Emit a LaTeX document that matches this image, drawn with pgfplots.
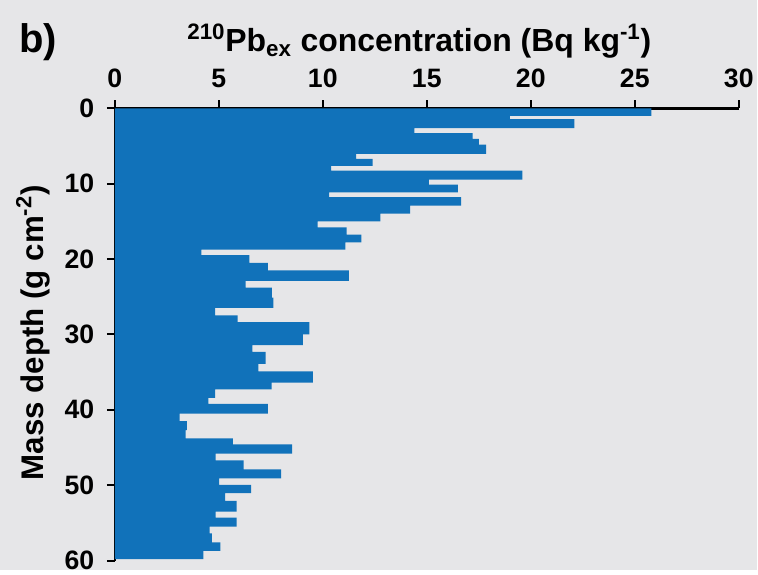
\documentclass[border=0pt]{standalone}
\usepackage{fontspec}
\setmainfont{Liberation Sans}
\usepackage{pgfplots}
\pgfplotsset{compat=1.18}
\definecolor{bg}{RGB}{230,230,232}
\definecolor{barblue}{RGB}{17,114,186}
\begin{document}
\begin{tikzpicture}[x=0.75pt,y=0.75pt]
\fill[bg] (0,0) rectangle (758,571);
\begin{axis}[
  at={(86.25pt,7.125pt)}, anchor=south west,
  scale only axis, width=468.75pt, height=339.75pt,
  xmin=0, xmax=30, ymin=0, ymax=60,
  y dir=reverse,
  axis x line*=top, axis y line*=left,
  axis line style={line width=1.8pt, -},
  xtick={0,5,...,30}, ytick={0,10,...,60},
  tick align=outside, major tick length=6pt,
  every tick/.style={black, line width=1.5pt},
  tick label style={font=\bfseries\fontsize{20}{20}\selectfont},
  xticklabel style={yshift=6pt},
  yticklabel style={xshift=-6pt},
  /pgf/number format/assume math mode=true,
  clip=false,
]
\addplot[xbar interval, fill=barblue, draw=none] coordinates {
(25.8,0) (19.0,1.0) (22.1,1.43) (14.4,2.63) (17.2,3.29) (17.5,4.04) (17.85,4.83)
(11.6,6.03) (12.4,6.69) (10.4,7.62) (19.6,8.28) (15.1,9.47) (16.5,10.13) (10.3,11.15)
(16.65,11.77) (14.2,12.9) (12.77,13.97) (9.75,14.99) (11.15,15.78) (11.86,16.75)
(11.09,17.77) (4.16,18.74) (6.47,19.49) (7.36,20.5) (11.25,21.5) (6.29,22.9)
(7.55,23.8) (7.62,25.1) (4.82,26.47) (5.9,27.48) (9.36,28.37) (9.04,30.0) (6.61,31.4)
(7.25,32.3) (6.9,33.9) (9.52,34.9) (7.54,36.4) (4.82,37.3) (4.5,38.4) (7.36,39.2)
(3.12,40.5) (3.47,41.5) (3.41,42.7) (5.68,43.8) (8.53,44.6) (4.85,45.8) (6.19,46.7)
(8.0,47.9) (5.01,49.1) (6.56,49.96) (5.3,51.06) (5.86,52.07) (4.85,53.5) (5.86,54.3)
(4.56,55.5) (4.67,56.4) (5.07,57.6) (4.26,58.7) (0,59.8)
};
\end{axis}
\node[font=\bfseries\fontsize{30}{30}\selectfont] at (38,529) {b)};
\node[font=\bfseries\fontsize{24}{24}\selectfont] at (420,530) {\textsuperscript{210}Pb\textsubscript{ex} concentration (Bq kg\textsuperscript{-1})};
\node[font=\bfseries\fontsize{23.5}{23.5}\selectfont, rotate=90] at (33,237.5) {Mass depth (g cm\textsuperscript{-2})};
\end{tikzpicture}
\end{document}
